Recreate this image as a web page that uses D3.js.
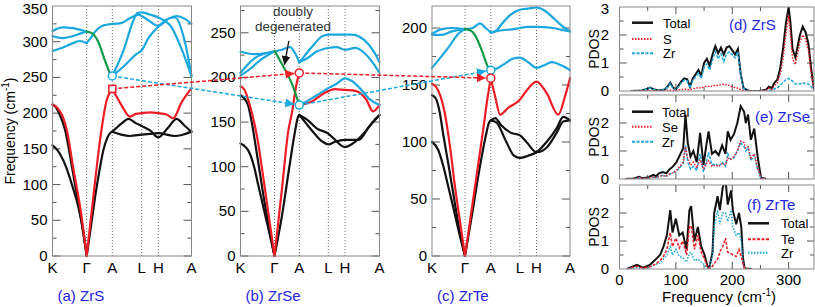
<!DOCTYPE html>
<html>
<head>
<meta charset="utf-8">
<script src="https://cdn.jsdelivr.net/npm/d3@7"></script>
<style>
body{margin:0;background:#fff;}
text{font-family:"Liberation Sans",Arial,sans-serif;}
.frame{fill:none;stroke:#888;stroke-width:1;}
.tick{stroke:#555;stroke-width:1;}
.sym{stroke:#444;stroke-width:0.8;stroke-dasharray:1,2;}
.band{fill:none;stroke-width:2.2;stroke-linejoin:round;stroke-linecap:round;}
</style>
</head>
<body>
<script>
// high symmetry path, band coordinates are [path index, frequency]
const kLabels=["K","Γ","A","L","H","A"];

const zrsBlack=[
  [[0,155],[0.15,148],[0.37,128],[0.6,95],[0.76,68],[0.9,35],[1,0]],
  [[0,212],[0.1,208],[0.22,197],[0.37,176],[0.55,130],[0.73,80],[0.88,38],[1,0]],
  [[1,0],[1.2,50],[1.33,83],[1.5,120],[1.65,148],[1.8,165],[1.91,172],[2,174]],
  [[2,174],[2.3,170],[2.6,168],[3,170],[3.5,171],[4,172],[4.5,168],[5,174]],
  [[2,174],[2.3,185],[2.55,192],[2.8,186],[3,182],[3.5,176],[4,166],[4.3,180],[4.55,192],[4.8,182],[5,174]]
];
const zrsRed=[
  [[0,212],[0.15,207],[0.3,195],[0.42,176],[0.6,125],[0.85,55],[1,0]],
  [[1,0],[1.25,80],[1.52,162],[1.78,218],[1.92,230],[2,234]],
  [[2,234],[2.3,212],[2.6,195],[2.8,199],[3,200],[3.5,201],[4,200],[4.25,198],[4.45,193],[4.7,215],[5,235]]
];
const zrsBlue=[
  [[0,315],[0.3,320],[0.6,319],[1,314]],
  [[0,308],[0.3,305],[0.6,308],[0.85,312],[1,314]],
  [[0,287],[0.3,292],[0.6,298],[0.8,301],[1,298]],
  [[1,298],[1.15,305],[1.35,315],[1.6,322],[2,325]],
  [[2,325],[2.3,326],[2.6,333],[2.9,338],[3,336],[3.4,330],[4,322],[4.3,332],[4.55,336],[4.8,332],[5,325]],
  [[2,252],[2.4,290],[2.7,328],[2.85,340],[3,341],[3.5,338],[4,334],[4.4,320],[4.7,290],[5,252]],
  [[2,252],[2.4,266],[2.8,282],[3,288],[3.4,305],[4,321],[4.3,332],[4.5,334],[4.8,300],[5,252]]
];
const zrsGreen=[[[1,314],[1.2,312],[1.45,300],[1.7,275],[1.93,253]]];

const zrseBlack=[
  [[0,126],[0.12,123],[0.23,118],[0.4,100],[0.53,78],[0.7,50],[0.83,29],[1,0]],
  [[0,180],[0.1,177],[0.23,168],[0.33,150],[0.5,110],[0.73,55],[1,0]],
  [[1,0],[1.3,45],[1.6,100],[1.83,140],[1.95,156],[2,158]],
  [[2,158],[2.3,152],[2.6,143],[3,137],[3.3,132],[4,122],[4.3,128],[4.6,140],[4.85,152],[5,158]],
  [[2,158],[2.2,150],[2.5,138],[2.8,128],[3,125],[3.4,128],[4,130],[4.4,130],[4.7,145],[5,158]]
];
const zrseRed=[
  [[0,190],[0.12,186],[0.25,172],[0.48,135],[0.73,72],[1,0]],
  [[1,0],[1.3,75],[1.56,141],[1.7,160],[1.89,193],[2,205]],
  [[2,169],[2.43,173],[2.84,182],[3.4,187],[4,186],[4.3,185],[4.62,175],[4.81,162],[5,169]]
];
const zrseBlue=[
  [[0,229],[0.4,226],[0.7,227],[1,229]],
  [[0,205],[0.2,214],[0.43,222],[0.73,227],[1,229]],
  [[0,202],[0.3,210],[0.6,220],[0.85,226],[1,229]],
  [[1,229],[1.3,231],[1.63,234],[1.83,227],[2,217]],
  [[2,217],[2.2,225],[2.43,234],[2.78,246],[3,248],[4,248],[4.19,248],[4.66,238],[4.85,228],[5,217]],
  [[2,217],[2.3,222],[2.6,229],[3,233],[3.5,234],[4,231],[4.3,233],[4.6,226],[4.85,214],[5,205]],
  [[2,169],[2.4,176],[2.75,183],[3,188],[3.5,193],[4,199],[4.2,196],[4.43,188],[4.7,176],[5,169]]
];
const zrseGreen=[[[1,230],[1.32,214],[1.7,193],[1.87,180],[1.96,172]]];

const zrteBlack=[
  [[0,100],[0.19,93],[0.35,78],[0.5,60],[0.65,42],[0.8,23],[1,0]],
  [[0,141],[0.12,138],[0.22,128],[0.35,105],[0.5,80],[0.7,45],[0.85,20],[1,0]],
  [[1,0],[1.3,40],[1.55,75],[1.83,108],[1.93,117],[2,119]],
  [[2,119],[2.15,121],[2.35,115],[2.7,108],[3,106],[3.4,100],[4,91],[4.3,95],[4.6,108],[4.8,118],[5,119]],
  [[2,119],[2.2,117],[2.5,102],[2.8,88],[3,86],[3.5,88],[4,91],[4.3,100],[4.6,112],[4.8,122],[5,119]]
];
const zrteRed=[
  [[0,151],[0.1,149],[0.19,145],[0.39,125],[0.55,95],[0.7,60],[0.85,30],[1,0]],
  [[1,0],[1.35,55],[1.7,110],[1.85,135],[2,156]],
  [[2,156],[2.15,140],[2.32,124],[2.6,130],[3,137],[3.3,143],[4,153],[4.3,143],[4.65,124],[4.85,140],[5,156]]
];
const zrteBlue=[
  [[0,195],[0.3,199],[0.6,200],[1,199]],
  [[0,194],[0.3,194],[0.6,197],[1,199]],
  [[0,165],[0.2,172],[0.5,183],[0.8,195],[1,199]],
  [[1,199],[1.3,200],[1.58,204],[1.8,200],[2,196]],
  [[2,196],[2.2,198],[2.39,204],[2.7,212],[3,216],[3.5,217],[4,218],[4.2,216],[4.46,210],[4.75,202],[5,197]],
  [[2,196],[2.4,198],[2.8,199],[3,200],[3.5,201],[4,201],[4.5,200],[4.8,198],[5,197]],
  [[2,163],[2.25,165],[2.5,169],[2.75,173],[3,174],[3.5,170],[4,165],[4.2,167],[4.46,170],[4.75,167],[5,163]]
];
const zrteGreen=[[[1,199],[1.2,198],[1.38,194],[1.64,181],[1.83,169],[1.92,164]]];

// modes at A that the dashed arrows follow (a -> b -> c)
const aModeBlue=[252,169,163];
const aModeRed=[234,205,156];

// partial phonon DOS
const dFreq=[20,40,50,55,60,70,80,85,90,95,100,110,115,120,125,130,135,140,145,150,155,160,165,170,175,180,185,190,195,200,205,210,215,220,230,250,260,265,270,275,280,285,290,295,300,303,307,312,316,320,325,330,335,340,345];
const dTotal=[0,0.02,0.08,0.12,0.06,0.02,0.05,0.15,0.3,0.12,0.05,0.35,0.45,0.42,0.15,0.45,0.6,0.75,0.55,1.0,1.15,0.9,1.3,1.6,1.35,1.55,1.3,1.55,1.6,1.45,1.3,1.5,0.6,0.1,0,0,0.05,0.15,0.1,0.3,0.4,0.8,1.5,2.4,3.0,2.5,1.5,1.2,1.6,2.0,2.3,2.1,1.7,0.8,0.05];
const dS=[0,0,0,0.01,0,0,0,0.02,0.03,0.02,0.02,0.05,0.06,0.06,0.04,0.08,0.1,0.12,0.1,0.15,0.18,0.15,0.18,0.2,0.2,0.22,0.25,0.22,0.2,0.15,0.12,0.1,0.05,0.01,0,0,0.03,0.1,0.05,0.2,0.3,0.6,1.15,2.0,2.7,2.1,1.15,0.95,1.35,1.75,2.0,1.85,1.45,0.65,0.03];
const dZr=[0,0.02,0.08,0.11,0.06,0.02,0.05,0.13,0.27,0.1,0.03,0.3,0.39,0.36,0.11,0.37,0.5,0.63,0.45,0.85,0.97,0.75,1.12,1.4,1.15,1.33,1.05,1.33,1.4,1.3,1.18,1.4,0.55,0.09,0,0,0.01,0.03,0.03,0.08,0.1,0.2,0.3,0.4,0.45,0.4,0.35,0.25,0.25,0.25,0.3,0.25,0.25,0.15,0.02];

const eFreq=[10,25,35,40,50,60,65,70,77,83,89,95,101,107,113,117,121,126,131,137,143,149,154,158,164,170,176,182,188,192,197,203,209,215,221,224,228,233,239,245,251,260];
const eTotal=[0,0.02,0.08,0.03,0.05,0.15,0.1,0.2,0.25,0.2,0.35,0.45,0.6,0.85,1.1,2.3,1.3,0.8,1.0,0.6,1.65,0.5,1.2,1.7,0.9,1.0,0.85,1.2,0.9,1.7,1.4,1.6,2.0,2.6,2.4,2.0,2.3,1.4,1.8,0.8,0.05,0];
const eSe=[0,0.01,0.04,0.02,0.03,0.08,0.05,0.1,0.12,0.1,0.18,0.22,0.3,0.45,0.6,1.15,0.75,0.5,0.6,0.4,0.7,0.35,0.55,0.65,0.45,0.5,0.45,0.55,0.5,0.75,0.7,0.8,1.0,1.35,1.3,1.1,1.15,0.75,0.9,0.4,0.03,0];
const eZr=[0,0.01,0.04,0.01,0.02,0.07,0.05,0.1,0.13,0.1,0.17,0.23,0.3,0.4,0.55,1.2,0.6,0.35,0.45,0.3,0.9,0.25,0.6,0.95,0.5,0.55,0.45,0.6,0.45,0.9,0.7,0.75,1.0,1.3,1.15,1.0,1.1,0.65,0.85,0.35,0.02,0];

const fFreq=[13,31,42,54,66,72,78,84,90,94,100,106,112,119,124,127,133,139,145,151,156,159,165,168,174,178,183,188,192,198,201,207,212,216,219,222,235];
const fTotal=[0,0.15,0.05,0.15,0.38,0.5,0.8,1.2,2.1,1.3,1.8,1.2,1.3,0.7,2.1,2.25,1.0,1.5,0.8,0.5,0.1,0.02,0.6,2.0,2.6,2.1,2.9,3.2,2.3,2.8,2.1,1.6,2.0,1.5,0.4,0.02,0];
const fTe=[0,0.1,0.03,0.08,0.2,0.3,0.45,0.7,1.3,0.8,1.1,0.75,1.0,0.5,1.5,1.55,0.7,1.2,0.6,0.35,0.08,0.01,0.1,0.2,0.35,0.6,0.8,1.1,0.6,0.55,0.5,0.45,0.7,0.45,0.2,0.01,0];
const fZr=[0,0.05,0.02,0.07,0.18,0.2,0.35,0.5,0.8,0.5,0.7,0.45,0.4,0.25,0.55,0.6,0.3,0.35,0.25,0.15,0.03,0.01,0.5,1.5,2.1,1.6,2.0,2.0,1.7,2.1,1.5,1.2,1.3,1.0,0.2,0.01,0];

const colors={black:"#111",red:"#ee1c24",blue:"#1ba8e0",green:"#109a45",label:"#2424e8"};

const svg=d3.select("body").append("svg")
  .attr("width",815)
  .attr("height",307);

const defs=svg.append("defs");
const addHead=(id,color,size)=>{
  defs.append("marker")
    .attr("id",id)
    .attr("markerUnits","userSpaceOnUse")
    .attr("markerWidth",size).attr("markerHeight",size)
    .attr("viewBox","0 0 10 10")
    .attr("refX",10).attr("refY",5)
    .attr("orient","auto")
    .append("path")
      .attr("d","M0,0L10,5L0,10z")
      .attr("fill",color);
}
addHead("headRed",colors.red,9);
addHead("headBlue",colors.blue,9);
addHead("headBlack",colors.black,9);

const bandPanels=[
  {label:"(a) ZrS",black:zrsBlack,red:zrsRed,blue:zrsBlue,green:zrsGreen,kx:[52.5,86.7,112.3,141.7,158.3,191.5],fmax:350,labMax:350,square:true},
  {label:"(b) ZrSe",black:zrseBlack,red:zrseRed,blue:zrseBlue,green:zrseGreen,kx:[240.5,274.5,299.3,328.3,345,379.5],fmax:280,labMax:250},
  {label:"(c) ZrTe",black:zrteBlack,red:zrteRed,blue:zrteBlue,green:zrteGreen,kx:[432,465,490.8,519.8,536.5,570],fmax:219.3,labMax:200}
];

const drawBandPanel=(p,i)=>{
  let x=d3.scaleLinear().domain([0,1,2,3,4,5]).range(p.kx);
  let y=d3.scaleLinear().domain([0,p.fmax]).range([256,6]);
  p.x=x; p.y=y;
  let g=svg.append("g");
  let x0=p.kx[0], x1=p.kx[5];

  g.selectAll(".sym")
    .data([1,2,3,4])
    .enter()
      .append("line")
      .attr("class","sym")
      .attr("x1",(d)=>x(d)).attr("x2",(d)=>x(d))
      .attr("y1",y(0)).attr("y2",y(p.fmax));

  let minor=d3.range(0,p.fmax,25);
  g.selectAll(".ytick")
    .data(minor)
    .enter()
      .append("path")
      .attr("class","tick")
      .attr("d",(d)=>{
        let len=d%50===0?8:4;
        return `M${x0},${y(d)}h${len}M${x1},${y(d)}h${-len}`;
      });

  g.selectAll(".ylab")
    .data(d3.range(0,p.labMax+1,50))
    .enter()
      .append("text")
      .attr("x",x0-5)
      .attr("y",(d)=>Math.max(y(d)+5,13.5))
      .attr("text-anchor","end")
      .attr("font-size",15)
      .text((d)=>d);

  g.selectAll(".klab")
    .data(kLabels)
    .enter()
      .append("text")
      .attr("x",(d,j)=>x(j))
      .attr("y",273)
      .attr("text-anchor","middle")
      .attr("font-size",15)
      .text((d)=>d);

  g.append("text")
    .attr("x",x0+5)
    .attr("y",301)
    .attr("font-size",15)
    .attr("fill",colors.label)
    .text(p.label);

  let line=d3.line()
    .x((d)=>x(d[0]))
    .y((d)=>y(d[1]))
    .curve(d3.curveMonotoneX);
  [["black",p.black],["red",p.red],["blue",p.blue],["green",p.green]].forEach(([c,segs])=>{
    g.append("g")
      .selectAll("path")
      .data(segs)
      .enter()
        .append("path")
        .attr("class","band")
        .attr("stroke",colors[c])
        .attr("d",line);
  });

  g.append("rect")
    .attr("class","frame")
    .attr("x",x0).attr("y",y(p.fmax))
    .attr("width",x1-x0).attr("height",y(0)-y(p.fmax));
}
bandPanels.forEach(drawBandPanel);

svg.append("text")
  .attr("transform","translate(15,131) rotate(-90)")
  .attr("text-anchor","middle")
  .attr("font-size",14)
  .call((t)=>{
    t.append("tspan").text("Frequency (cm");
    t.append("tspan").attr("dy",-6).attr("font-size",10).text("-1");
    t.append("tspan").attr("dy",6).text(")");
  });

// dashed arrows linking the A-point modes
const arrows=svg.append("g");
const drawArrow=(from,to,color,head)=>{
  let [xa,ya]=from,[xb,yb]=to;
  let len=Math.hypot(xb-xa,yb-ya);
  let ex=xb-(xb-xa)/len*5, ey=yb-(yb-ya)/len*5;
  arrows.append("line")
    .attr("x1",xa).attr("y1",ya)
    .attr("x2",ex).attr("y2",ey)
    .attr("stroke",color)
    .attr("stroke-width",1.5)
    .attr("stroke-dasharray","4,2")
    .attr("marker-end",`url(#${head})`);
}
const aPoint=(p,f)=>[p.x(2),p.y(f)];
for(let i=0;i<2;i++){
  drawArrow(aPoint(bandPanels[i],aModeBlue[i]),aPoint(bandPanels[i+1],aModeBlue[i+1]),colors.blue,"headBlue");
  drawArrow(aPoint(bandPanels[i],aModeRed[i]),aPoint(bandPanels[i+1],aModeRed[i+1]),colors.red,"headRed");
}
bandPanels.forEach((p,i)=>{
  let [bx,by]=aPoint(p,aModeBlue[i]);
  arrows.append("circle")
    .attr("cx",bx).attr("cy",by).attr("r",4)
    .attr("fill","#fff").attr("stroke",colors.blue).attr("stroke-width",1.5);
  let [rx,ry]=aPoint(p,aModeRed[i]);
  if(p.square)
    arrows.append("rect")
      .attr("x",rx-3.5).attr("y",ry-3.5).attr("width",7).attr("height",7)
      .attr("fill","#fff").attr("stroke",colors.red).attr("stroke-width",1.5);
  else
    arrows.append("circle")
      .attr("cx",rx).attr("cy",ry).attr("r",4)
      .attr("fill","#fff").attr("stroke",colors.red).attr("stroke-width",1.5);
});

// annotation on the ZrSe green branch
const pb=bandPanels[1];
svg.append("line")
  .attr("x1",pb.x(1.58)).attr("y1",pb.y(241))
  .attr("x2",pb.x(1.4)).attr("y2",pb.y(214))
  .attr("stroke",colors.black)
  .attr("stroke-width",1.3)
  .attr("marker-end","url(#headBlack)");
svg.append("text")
  .attr("x",293).attr("y",16)
  .attr("text-anchor","middle")
  .attr("font-size",13.5)
  .attr("fill","#333")
  .text("doubly");
svg.append("text")
  .attr("x",293).attr("y",31)
  .attr("text-anchor","middle")
  .attr("font-size",13.5)
  .attr("fill","#333")
  .text("degenerated");

// PDOS panels
const pdosX=d3.scaleLinear().domain([0,345]).range([619.5,814]);
const pdosPanels=[
  {label:"(d) ZrS",freq:dFreq,total:dTotal,elem:dS,zr:dZr,elemName:"S",top:7,bottom:91,yLabs:[0,1,2,3],
   lab:[729,30],leg:[632,663,[22.7,39,53.3]],elemDash:"1.5,1.5",zrDash:"3,1.5"},
  {label:"(e) ZrSe",freq:eFreq,total:eTotal,elem:eSe,zr:eZr,elemName:"Se",top:95,bottom:179,yLabs:[0,1,2],
   lab:[755,122],leg:[632,662,[111.7,126.7,141.7]],elemDash:"1.5,1.5",zrDash:"3,1.5"},
  {label:"(f) ZrTe",freq:fFreq,total:fTotal,elem:fTe,zr:fZr,elemName:"Te",top:185,bottom:269,yLabs:[0,1,2],
   lab:[747,210],leg:[748,781,[223.3,239.3,252.7]],elemDash:"3,1.5",zrDash:"1.5,1.5"}
];

const drawPdos=(p,i)=>{
  let y=d3.scaleLinear().domain([0,3]).range([p.bottom,p.top]);
  let g=svg.append("g");
  let clipId=`clip${i}`;
  defs.append("clipPath").attr("id",clipId)
    .append("rect")
      .attr("x",pdosX(0)).attr("y",p.top)
      .attr("width",pdosX(345)-pdosX(0)).attr("height",p.bottom-p.top);

  g.selectAll(".xt")
    .data(d3.range(0,346,50))
    .enter()
      .append("path")
      .attr("class","tick")
      .attr("d",(d)=>{
        let len=d%100===0?7:4;
        return `M${pdosX(d)},${p.bottom}v${-len}M${pdosX(d)},${p.top}v${len}`;
      });
  g.selectAll(".yt")
    .data(d3.range(0.5,3,0.5))
    .enter()
      .append("path")
      .attr("class","tick")
      .attr("d",(d)=>{
        let len=d%1===0?7:4;
        return `M${pdosX(0)},${y(d)}h${len}M${pdosX(345)},${y(d)}h${-len}`;
      });
  g.selectAll(".yl")
    .data(p.yLabs)
    .enter()
      .append("text")
      .attr("x",609)
      .attr("y",(d)=>Math.max(y(d)+5,13.5))
      .attr("text-anchor","end")
      .attr("font-size",15)
      .text((d)=>d);
  g.append("text")
    .attr("transform",`translate(599,${(p.top+p.bottom)/2}) rotate(-90)`)
    .attr("text-anchor","middle")
    .attr("font-size",14)
    .text("PDOS");

  let series=[
    {vals:p.total,color:colors.black,w:2,dash:null,name:"Total"},
    {vals:p.zr,color:colors.blue,w:1.5,dash:p.zrDash,name:"Zr"},
    {vals:p.elem,color:colors.red,w:1.5,dash:p.elemDash,name:p.elemName}
  ];
  let line=d3.line()
    .x((d)=>pdosX(d[0]))
    .y((d)=>y(d[1]));
  g.append("g")
    .attr("clip-path",`url(#${clipId})`)
    .selectAll("path")
    .data(series)
    .enter()
      .append("path")
      .attr("fill","none")
      .attr("stroke",(s)=>s.color)
      .attr("stroke-width",(s)=>s.w)
      .attr("stroke-dasharray",(s)=>s.dash)
      .attr("d",(s)=>line(p.freq.map((f,j)=>[f,s.vals[j]])));

  let legOrder=[series[0],series[2],series[1]];
  legOrder.forEach((s,j)=>{
    let ly=p.leg[2][j];
    g.append("line")
      .attr("x1",p.leg[0]).attr("x2",p.leg[0]+21)
      .attr("y1",ly).attr("y2",ly)
      .attr("stroke",s.color)
      .attr("stroke-width",s.w+0.5)
      .attr("stroke-dasharray",s.dash);
    g.append("text")
      .attr("x",p.leg[1]).attr("y",ly+5)
      .attr("font-size",13)
      .text(s.name);
  });
  g.append("text")
    .attr("x",p.lab[0]).attr("y",p.lab[1])
    .attr("font-size",15)
    .attr("fill",colors.label)
    .text(p.label);

  g.append("rect")
    .attr("class","frame")
    .attr("x",pdosX(0)).attr("y",p.top)
    .attr("width",pdosX(345)-pdosX(0)).attr("height",p.bottom-p.top);
}
pdosPanels.forEach(drawPdos);

svg.selectAll(".pxl")
  .data([0,100,200,300])
  .enter()
    .append("text")
    .attr("x",(d)=>pdosX(d))
    .attr("y",285)
    .attr("text-anchor","middle")
    .attr("font-size",15)
    .text((d)=>d);
svg.append("text")
  .attr("x",719).attr("y",302)
  .attr("text-anchor","middle")
  .attr("font-size",15)
  .call((t)=>{
    t.append("tspan").text("Frequency (cm");
    t.append("tspan").attr("dy",-6).attr("font-size",10).text("-1");
    t.append("tspan").attr("dy",6).text(")");
  });
</script>
</body>
</html>
